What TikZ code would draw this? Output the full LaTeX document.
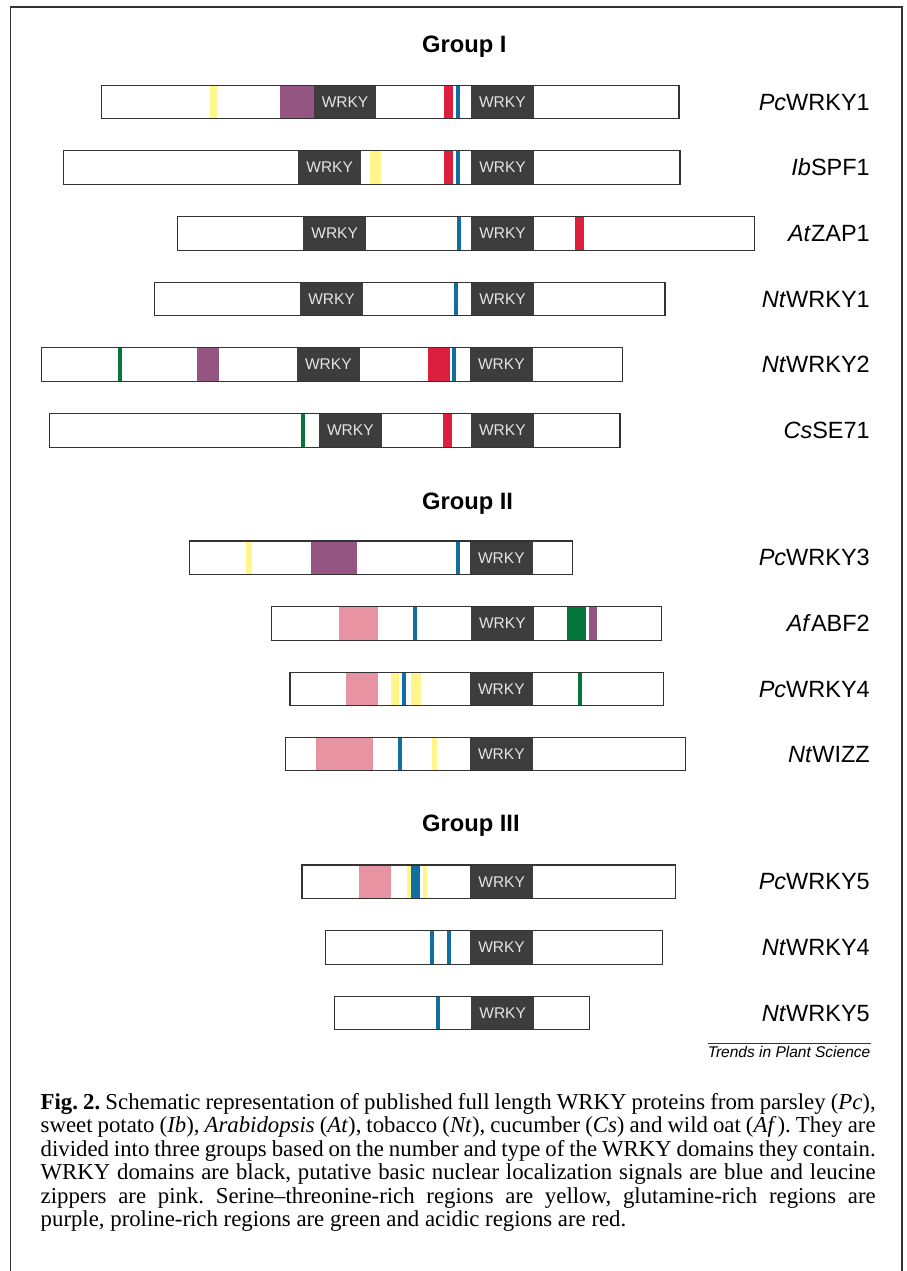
\documentclass[tikz,border=0pt]{standalone}
\usepackage{fontspec}
\setmainfont{Liberation Serif}
\setsansfont{Liberation Sans}
\definecolor{wrkyc}{HTML}{3D3D3D}
\definecolor{lineC}{HTML}{333333}
\definecolor{yel}{HTML}{FFF58A}
\definecolor{pur}{HTML}{955583}
\definecolor{redd}{HTML}{DC1F3C}
\definecolor{blu}{HTML}{0F6FA0}
\definecolor{grn}{HTML}{05763A}
\definecolor{pnk}{HTML}{E893A2}
\tikzset{
  barline/.style={draw=lineC, line width=1.3pt},
  frameline/.style={draw=lineC, line width=1.3pt},
  wrkytxt/.style={text=white!90!black, font=\sffamily\fontsize{15.5}{18}\selectfont, inner sep=0pt},
  lab/.style={anchor=east, font=\sffamily\fontsize{23.5}{28}\selectfont, inner sep=0pt},
  grp/.style={anchor=base west, font=\sffamily\bfseries\fontsize{23.7}{28}\selectfont, inner sep=0pt},
}
\newcommand\pdom[4]{\fill[#1] (#2,#4) rectangle (#3,{#4+33.5});}
\newcommand\pwrky[4]{\fill[wrkyc] (#2,#4) rectangle (#3,{#4+33.5});
  \node[wrkytxt] (#1) at ({(#2+#3)/2},{#4+16.75}) {WRKY};}
\newcommand\pbar[5]{\draw[barline] (#2,#4) rectangle (#3,{#4+33.5});
  \node[lab] (#1) at (870,{#4+16.75}) {#5};}
\begin{document}
\begin{tikzpicture}[x=1pt,y=-1pt]
\fill[white] (0,0) rectangle (907,1271);
\useasboundingbox (0,0) rectangle (907,1271);
% frame
\draw[frameline] (10.5,1271) -- (10.5,7) -- (902,7) -- (902,1271);

% Group titles
\node[grp] (g1) at (422,52.5) {Group I};
\node[grp] (g2) at (422,509) {Group II};
\node[grp] (g3) at (422,831) {Group III};

% Row 1 PcWRKY1
\pdom{yel}{210}{217}{85.3}
\pdom{pur}{280}{314}{85.3}
\pwrky{w1a}{314}{376}{85.3}
\pdom{redd}{444}{452.7}{85.3}
\pdom{blu}{456}{460}{85.3}
\pwrky{w1b}{471}{533.7}{85.3}
\pbar{l1}{101.7}{679}{85.3}{\textit{Pc}WRKY1}

% Row 2 IbSPF1
\pwrky{w2a}{298.3}{361}{150.7}
\pdom{yel}{370}{380.7}{150.7}
\pdom{redd}{444}{452.7}{150.7}
\pdom{blu}{456}{460}{150.7}
\pwrky{w2b}{471}{534}{150.7}
\pbar{l2}{63.3}{680}{150.7}{\textit{Ib}SPF1}

% Row 3 AtZAP1
\pwrky{w3a}{303.3}{366}{216.7}
\pdom{blu}{457}{461}{216.7}
\pwrky{w3b}{471}{534}{216.7}
\pdom{redd}{575}{584}{216.7}
\pbar{l3}{177.7}{754.7}{216.7}{\textit{At}ZAP1}

% Row 4 NtWRKY1
\pwrky{w4a}{300.3}{362.7}{282.3}
\pdom{blu}{454}{458}{282.3}
\pwrky{w4b}{471}{534}{282.3}
\pbar{l4}{154.7}{665}{282.3}{\textit{Nt}WRKY1}

% Row 5 NtWRKY2
\pdom{grn}{118}{122}{347.7}
\pdom{pur}{197}{218.7}{347.7}
\pwrky{w5a}{297}{359.7}{347.7}
\pdom{redd}{428}{450}{347.7}
\pdom{blu}{451.7}{455.7}{347.7}
\pwrky{w5b}{470}{532.7}{347.7}
\pbar{l5}{41.3}{622.3}{347.7}{\textit{Nt}WRKY2}

% Row 6 CsSE71
\pdom{grn}{301}{304.7}{413.7}
\pwrky{w6a}{319}{381.7}{413.7}
\pdom{redd}{443}{451.7}{413.7}
\pwrky{w6b}{471}{533.7}{413.7}
\pbar{l6}{49.3}{620}{413.7}{\textit{Cs}SE71}

% Row 7 PcWRKY3
\pdom{yel}{246}{252}{541}
\pdom{pur}{311}{357}{541}
\pdom{blu}{456}{460}{541}
\pwrky{w7}{470}{532.7}{541}
\pbar{l7}{189.3}{572.3}{541}{\textit{Pc}WRKY3}

% Row 8 AfABF2
\pdom{pnk}{339}{378}{606.7}
\pdom{blu}{413}{417}{606.7}
\pwrky{w8}{471}{533.7}{606.7}
\pdom{grn}{567}{586}{606.7}
\pdom{pur}{589}{597}{606.7}
\pbar{l8}{271.3}{661.7}{606.7}{\textit{Af}ABF2}

% Row 9 PcWRKY4
\pdom{pnk}{346}{378}{672.3}
\pdom{yel}{391}{399.3}{672.3}
\pdom{blu}{402}{406}{672.3}
\pdom{yel}{411}{421}{672.3}
\pwrky{w9}{470}{532.7}{672.3}
\pdom{grn}{578}{582}{672.3}
\pbar{l9}{290}{663.7}{672.3}{\textit{Pc}WRKY4}

% Row 10 NtWIZZ
\pdom{pnk}{316}{373}{737.3}
\pdom{blu}{398}{402}{737.3}
\pdom{yel}{432}{437}{737.3}
\pwrky{w10}{470}{532.7}{737.3}
\pbar{l10}{285.7}{685.3}{737.3}{\textit{Nt}WIZZ}

% Row 11 PcWRKY5
\pdom{pnk}{359}{391}{865}
\pdom{yel}{407}{410.7}{865}
\pdom{blu}{410.7}{419.7}{865}
\pdom{yel}{423}{427}{865}
\pwrky{w11}{470.3}{533}{865}
\pbar{l11}{302}{675.7}{865}{\textit{Pc}WRKY5}

% Row 12 NtWRKY4
\pdom{blu}{430}{434}{930.7}
\pdom{blu}{447}{451}{930.7}
\pwrky{w12}{470}{533}{930.7}
\pbar{l12}{325.3}{662.3}{930.7}{\textit{Nt}WRKY4}

% Row 13 NtWRKY5
\pdom{blu}{436}{440}{996.3}
\pwrky{w13}{471.3}{534}{996.3}
\pbar{l13}{334.7}{589.3}{996.3}{\textit{Nt}WRKY5}

% Journal tag
\node[anchor=base east, inner sep=0pt, font=\sffamily\itshape\fontsize{15.5}{18}\selectfont] (tps) at (870.5,1057) {Trends in Plant Science};
\draw[line width=0.8pt, lineC] ([yshift=2pt]tps.north west) -- ([yshift=2pt]tps.north east);

% Caption
\node[anchor=base west, inner sep=0pt] (cap) at (40.5,1109.5) {\parbox[t]{835pt}{\frenchspacing\fontsize{22.8}{23.4}\selectfont
\makebox[835pt][s]{\textbf{Fig. 2.} Schematic representation of published full length WRKY proteins from parsley (\textit{Pc}),}\\
\makebox[835pt][s]{sweet potato (\textit{Ib}), \textit{Arabidopsis} (\textit{At}), tobacco (\textit{Nt}), cucumber (\textit{Cs}) and wild oat (\textit{Af\,}). They are}\\
\makebox[835pt][s]{divided into three groups based on the number and type of the WRKY domains they contain.}\\
\makebox[835pt][s]{WRKY domains are black, putative basic nuclear localization signals are blue and leucine}\\
\makebox[835pt][s]{zippers are pink. Serine–threonine-rich regions are yellow, glutamine-rich regions are}\\
purple, proline-rich regions are green and acidic regions are red.}};
\end{tikzpicture}
\end{document}
